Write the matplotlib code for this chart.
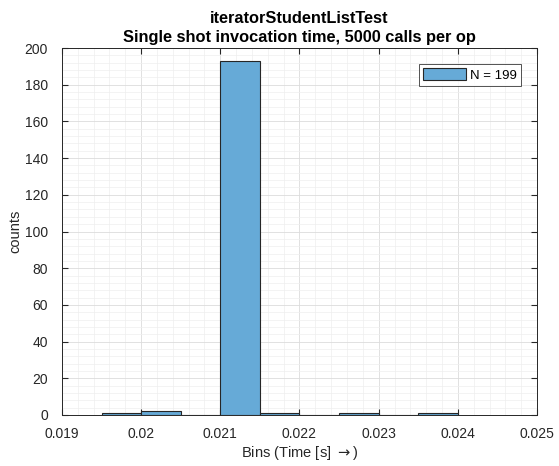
import numpy as np
import matplotlib
matplotlib.use("Agg")
import matplotlib.pyplot as plt
from matplotlib.ticker import MultipleLocator

# histogram data
bin_edges = [0.0195, 0.020, 0.0205, 0.021, 0.0215, 0.022, 0.0225, 0.023, 0.0235, 0.024]
counts = [1, 2, 0, 193, 1, 0, 1, 0, 1]
title_lines = ["iteratorStudentListTest", "Single shot invocation time, 5000 calls per op"]
legend_label = "N = 199"
xtick_vals = [0.019, 0.020, 0.021, 0.022, 0.023, 0.024, 0.025]
xtick_text = ["0.019", "0.02", "0.021", "0.022", "0.023", "0.024", "0.025"]

plt.rcParams['font.family'] = ['Liberation Sans', 'DejaVu Sans']

fig = plt.figure(figsize=[5.59, 4.66], dpi=100)
ax = fig.add_axes([62/559, 1-415/466, (537-62)/559, (415-48)/466])

edges = np.array(bin_edges)
ax.bar(edges[:-1], counts, width=np.diff(edges), align='edge',
       color='#66aad7', edgecolor='#262626', linewidth=0.8, label=legend_label, zorder=3)

ax.set_xlim(0.019, 0.025)
ax.set_ylim(0, 200)
ax.set_xticks(xtick_vals)
ax.set_xticklabels(xtick_text)
ax.xaxis.set_minor_locator(MultipleLocator(0.0002))
ax.yaxis.set_major_locator(MultipleLocator(20))
ax.yaxis.set_minor_locator(MultipleLocator(4))

ax.grid(which='major', color='#dcdcdc', linewidth=0.6, zorder=0)
ax.grid(which='minor', color='#eeeeee', linewidth=0.5, zorder=0)
ax.tick_params(which='both', direction='in', top=True, right=True, labelsize=10, colors='#262626')
ax.tick_params(which='minor', length=0)
ax.tick_params(which='major', length=4)
ax.tick_params(axis='x', pad=9)
ax.tick_params(axis='y', pad=10)
for s in ax.spines.values():
    s.set_color('#262626')
    s.set_linewidth(0.7)

ax.set_xlabel("Bins (Time [s] $\\rightarrow$)", fontsize=10.5, color='#262626', labelpad=2)
ax.set_ylabel("counts", fontsize=10.5, color='#262626', labelpad=2)
ax.set_title("\n".join(title_lines), fontsize=11.8, fontweight='bold', color='#000000',
             pad=4, linespacing=1.35)

leg = ax.legend(loc='upper right', fontsize=9.5, frameon=True, fancybox=False,
                edgecolor='#262626', handlelength=3.2, handleheight=1.0, handletextpad=0.3,
                borderpad=0.35, borderaxespad=1.2)
leg.get_frame().set_linewidth(0.7)

fig.savefig("out.png", dpi=100, facecolor='white')
